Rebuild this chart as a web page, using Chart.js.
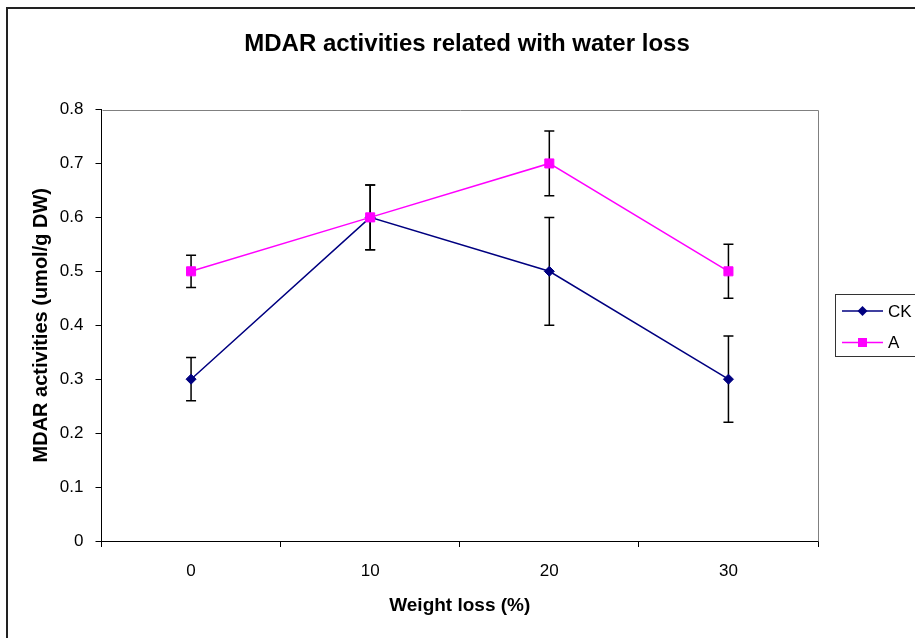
<!DOCTYPE html>
<html>
<head>
<meta charset="utf-8">
<script src="https://cdn.jsdelivr.net/npm/chart.js@4/dist/chart.umd.min.js"></script>
<style>
  html, body { margin: 0; padding: 0; background: #fff; }
  canvas { display: block; }
</style>
</head>
<body>
<canvas id="c" width="915" height="638"></canvas>
<script>
const categories = ['0', '10', '20', '30'];
const seriesNames = ['CK', 'A'];
const ckValues = [0.3, 0.6, 0.5, 0.3];
const ckErrors = [0.04, 0.06, 0.1, 0.08];
const aValues = [0.5, 0.6, 0.7, 0.5];
const aErrors = [0.03, 0.06, 0.06, 0.05];
const yTickLabels = ['0', '0.1', '0.2', '0.3', '0.4', '0.5', '0.6', '0.7', '0.8'];
const chartTitle = 'MDAR activities related with water loss';
const xTitle = 'Weight loss (%)';
const yTitle = 'MDAR activities (umol/g DW)';

const FONT = "'Liberation Sans', Arial, sans-serif";

const errorBars = {
  id: 'errorBars',
  beforeDatasetsDraw(chart) {
    const ctx = chart.ctx;
    const x = chart.scales.x, y = chart.scales.y;
    const sets = [[ckValues, ckErrors], [aValues, aErrors]];
    ctx.save();
    ctx.strokeStyle = '#000';
    ctx.lineWidth = 1.5;
    sets.forEach(([vals, errs]) => {
      vals.forEach((v, i) => {
        const px = x.getPixelForValue(i);
        const top = y.getPixelForValue(v + errs[i]);
        const bot = y.getPixelForValue(v - errs[i]);
        ctx.beginPath();
        ctx.moveTo(px, top); ctx.lineTo(px, bot);
        ctx.moveTo(px - 5, top); ctx.lineTo(px + 5, top);
        ctx.moveTo(px - 5, bot); ctx.lineTo(px + 5, bot);
        ctx.stroke();
      });
    });
    ctx.restore();
  }
};

const frame = {
  id: 'frame',
  beforeDraw(chart) {
    const ctx = chart.ctx;
    ctx.save();
    ctx.fillStyle = '#fff';
    ctx.fillRect(0, 0, chart.width, chart.height);
    ctx.strokeStyle = '#222';
    ctx.lineWidth = 2;
    ctx.strokeRect(7, 8, 1000, 1000);
    ctx.restore();
  },
  beforeDatasetsDraw(chart) {
    const ctx = chart.ctx;
    const a = chart.chartArea;
    ctx.save();
    ctx.strokeStyle = '#808080';
    ctx.lineWidth = 1;
    ctx.beginPath();
    ctx.moveTo(Math.round(a.left) + 0.5, Math.round(a.top) + 0.5);
    ctx.lineTo(Math.round(a.right) + 0.5, Math.round(a.top) + 0.5);
    ctx.lineTo(Math.round(a.right) + 0.5, Math.round(a.bottom) + 0.5);
    ctx.stroke();
    ctx.restore();
  }
};

const customLegend = {
  id: 'customLegend',
  afterDraw(chart) {
    const ctx = chart.ctx;
    ctx.save();
    ctx.strokeStyle = '#333';
    ctx.lineWidth = 1;
    ctx.strokeRect(835.5, 294.5, 120, 62);
    const rows = [311, 342.5];
    chart.data.datasets.slice().sort((p, q) => seriesNames.indexOf(p.label) - seriesNames.indexOf(q.label)).forEach((ds, i) => {
      const yy = rows[i];
      ctx.strokeStyle = ds.borderColor;
      ctx.lineWidth = 1.5;
      ctx.beginPath();
      ctx.moveTo(842, yy); ctx.lineTo(883, yy);
      ctx.stroke();
      ctx.fillStyle = ds.backgroundColor;
      ctx.beginPath();
      if (ds.pointStyle === 'rect') {
        const s = Math.SQRT1_2 * ds.pointRadius;
        ctx.rect(862.5 - s, yy - s, 2 * s, 2 * s);
      } else {
        const r = ds.pointRadius;
        ctx.moveTo(862.5 - r, yy); ctx.lineTo(862.5, yy - r); ctx.lineTo(862.5 + r, yy); ctx.lineTo(862.5, yy + r); ctx.closePath();
      }
      ctx.fill();
      ctx.fillStyle = '#000';
      ctx.font = '17px ' + FONT;
      ctx.textBaseline = 'middle';
      ctx.textAlign = 'left';
      ctx.fillText(ds.label, 888, yy + 1);
    });
    ctx.restore();
  }
};

new Chart(document.getElementById('c'), {
  type: 'line',
  data: {
    labels: categories,
    datasets: [
      {
        label: seriesNames[0], data: ckValues, order: 1,
        borderColor: '#000080', backgroundColor: '#000080', borderWidth: 1.5,
        pointStyle: 'rectRot', pointRadius: 5, pointBorderWidth: 1,
        pointBackgroundColor: '#000080', pointBorderColor: '#000080', tension: 0
      },
      {
        label: seriesNames[1], data: aValues, order: 0,
        borderColor: '#FF00FF', backgroundColor: '#FF00FF', borderWidth: 1.5,
        pointStyle: 'rect', pointRadius: 6.4, pointBorderWidth: 1,
        pointBackgroundColor: '#FF00FF', pointBorderColor: '#FF00FF', tension: 0
      }
    ]
  },
  options: {
    responsive: false,
    animation: false,
    devicePixelRatio: 1,
    layout: { padding: { left: 19, right: 0, top: 0, bottom: 0 } },
    plugins: {
      legend: { display: false },
      tooltip: { enabled: false },
      title: {
        display: true, text: chartTitle, color: '#000',
        font: { family: FONT, size: 24, weight: 'bold', lineHeight: 1.2 },
        padding: { top: 30, bottom: 50.7 }
      }
    },
    scales: {
      x: {
        type: 'category', offset: true,
        grid: { offset: true, drawOnChartArea: false, drawTicks: true, tickLength: 6, color: '#000' },
        border: { color: '#000', width: 1 },
        ticks: { color: '#000', font: { family: FONT, size: 17 }, padding: 14, maxRotation: 0 },
        title: {
          display: true, text: xTitle, color: '#000',
          font: { family: FONT, size: 19, weight: 'bold', lineHeight: 1.2 },
          padding: { top: 0, bottom: 21 }
        },
        afterFit(s) { s.height = 97; }
      },
      y: {
        min: 0, max: 0.8,
        grid: { drawOnChartArea: false, drawTicks: true, tickLength: 6, color: '#000' },
        border: { color: '#000', width: 1 },
        ticks: {
          stepSize: 0.1, color: '#000', font: { family: FONT, size: 17 }, padding: 12,
          callback: (v, i) => yTickLabels[i]
        },
        title: {
          display: true, text: yTitle, color: '#000',
          font: { family: FONT, size: 20, weight: 'bold', lineHeight: 1.2 },
          padding: { top: 10, bottom: 0 }
        },
        afterFit(s) { s.width = 82.5; }
      },
      legendSpace: {
        position: 'right', display: true, min: 0, max: 1,
        grid: { display: false, drawTicks: false },
        border: { display: false },
        ticks: { display: false },
        title: { display: false },
        afterFit(s) { s.width = 97; }
      }
    }
  },
  plugins: [frame, errorBars, customLegend]
});
</script>
</body>
</html>
